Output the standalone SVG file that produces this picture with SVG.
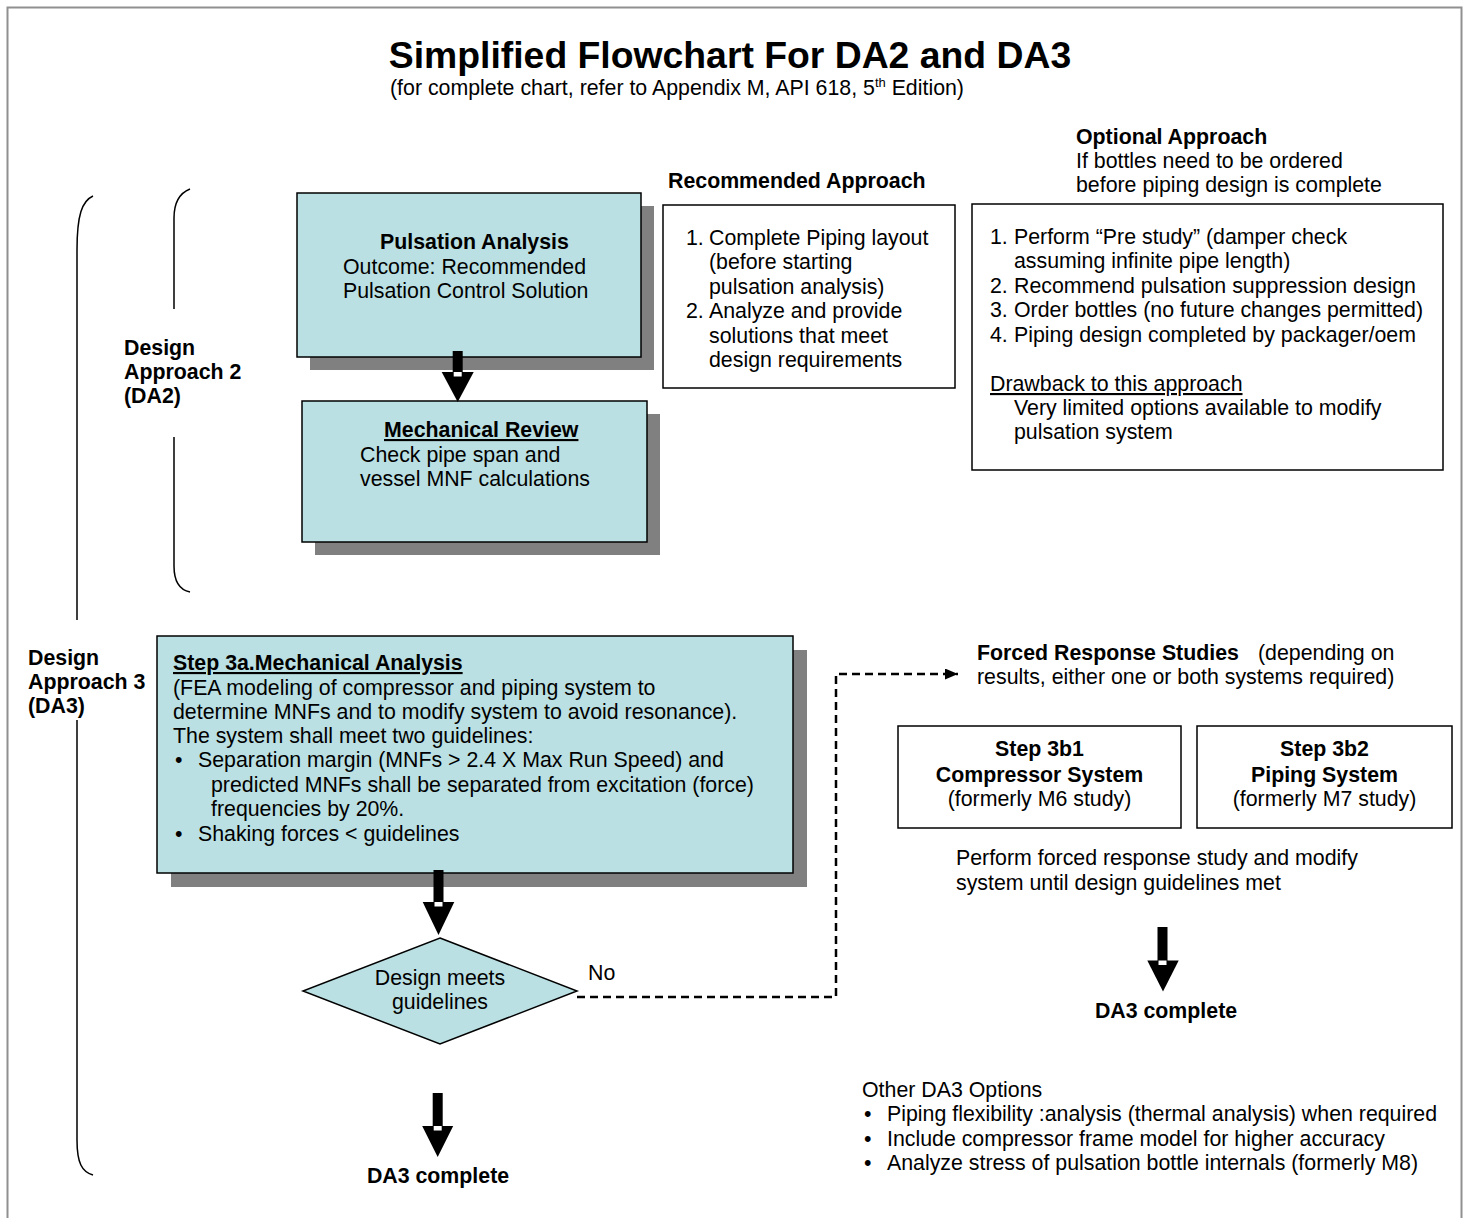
<svg xmlns="http://www.w3.org/2000/svg" width="1465" height="1218" viewBox="0 0 1465 1218">
<style>
text{font-family:"Liberation Sans",Arial,sans-serif;font-size:21.33px;fill:#000}
.b{font-weight:bold}
.u{text-decoration:underline}
.title{font-size:37.33px;font-weight:bold}
.mid{text-anchor:middle}
.box{fill:#BBE0E3;stroke:#000;stroke-width:1.5}
.wbox{fill:#fff;stroke:#000;stroke-width:1.5}
.shadow{fill:#808080}
.brace{fill:none;stroke:#000;stroke-width:1.5}
.blk{fill:#000}
.notch{fill:#fff}
.dash{fill:none;stroke:#000;stroke-width:2.5;stroke-dasharray:8 5}
</style>
<defs>
<marker id="ah" markerWidth="13" markerHeight="11" refX="13" refY="5.5" orient="auto" markerUnits="userSpaceOnUse"><path d="M0,0 L13,5.5 L0,11 Z" fill="#000"/></marker>
</defs>
<rect x="0" y="0" width="1465" height="1218" fill="#fff"/>
<rect x="7.5" y="7.5" width="1454" height="1240" fill="none" stroke="#909090" stroke-width="2"/>

<g id="title">
<text class="title mid" x="730" y="68">Simplified Flowchart For DA2 and DA3</text>
<text x="390" y="95">(for complete chart, refer to Appendix M, API 618, 5<tspan font-size="13" dy="-8">th</tspan><tspan dy="8"> Edition)</tspan></text>
</g>

<g id="brackets">
<path class="brace" d="M93,196 C82,201 77,215 77,250 L77,620"/>
<path class="brace" d="M77,720 L77,1140 C77,1163 82,1172 93,1175"/>
<path class="brace" d="M190,189 C180,193 174,201 174,218 L174,309"/>
<path class="brace" d="M174,437 L174,566 C174,582 180,590 190,592"/>
</g>

<g id="label-da2">
<text class="b" x="124" y="355">Design</text>
<text class="b" x="124" y="379">Approach 2</text>
<text class="b" x="124" y="403">(DA2)</text>
</g>
<g id="label-da3">
<text class="b" x="28" y="665">Design</text>
<text class="b" x="28" y="689">Approach 3</text>
<text class="b" x="28" y="713">(DA3)</text>
</g>

<g id="pulsation-analysis">
<rect class="shadow" x="310" y="206" width="344" height="164"/>
<rect class="box" x="297" y="193" width="344" height="164"/>
<text class="b" x="380" y="249">Pulsation Analysis</text>
<text x="343" y="274">Outcome: Recommended</text>
<text x="343" y="298">Pulsation Control Solution</text>
</g>

<g id="mechanical-review">
<rect class="shadow" x="315" y="414" width="345" height="141"/>
<rect class="box" x="302" y="401" width="345" height="141"/>
<text class="b u" x="384" y="437">Mechanical Review</text>
<text x="360" y="462">Check pipe span and</text>
<text x="360" y="486">vessel MNF calculations</text>
</g>

<g id="recommended-approach">
<text class="b" x="668" y="188">Recommended Approach</text>
<rect class="wbox" x="663" y="205" width="292" height="183"/>
<text x="686" y="245">1.</text><text x="709" y="245">Complete Piping layout</text>
<text x="709" y="269">(before starting</text>
<text x="709" y="294">pulsation analysis)</text>
<text x="686" y="318">2.</text><text x="709" y="318">Analyze and provide</text>
<text x="709" y="343">solutions that meet</text>
<text x="709" y="367">design requirements</text>
</g>

<g id="optional-approach">
<text class="b" x="1076" y="144">Optional Approach</text>
<text x="1076" y="168">If bottles need to be ordered</text>
<text x="1076" y="192">before piping design is complete</text>
<rect class="wbox" x="972" y="204" width="471" height="266"/>
<text x="990" y="244">1.</text><text x="1014" y="244">Perform “Pre study” (damper check</text>
<text x="1014" y="268">assuming infinite pipe length)</text>
<text x="990" y="293">2.</text><text x="1014" y="293">Recommend pulsation suppression design</text>
<text x="990" y="317">3.</text><text x="1014" y="317">Order bottles (no future changes permitted)</text>
<text x="990" y="342">4.</text><text x="1014" y="342">Piping design completed by packager/oem</text>
<text class="u" x="990" y="391">Drawback to this approach</text>
<text x="1014" y="415">Very limited options available to modify</text>
<text x="1014" y="439">pulsation system</text>
</g>

<g id="step-3a">
<rect class="shadow" x="171" y="650" width="636" height="237"/>
<rect class="box" x="157" y="636" width="636" height="237"/>
<text class="b u" x="173" y="670">Step 3a.Mechanical Analysis</text>
<text x="173" y="695">(FEA modeling of compressor and piping system to</text>
<text x="173" y="719">determine MNFs and to modify system to avoid resonance).</text>
<text x="173" y="743">The system shall meet two guidelines:</text>
<text x="175" y="767">•</text><text x="198" y="767">Separation margin (MNFs &gt; 2.4 X Max Run Speed) and</text>
<text x="211" y="792">predicted MNFs shall be separated from excitation (force)</text>
<text x="211" y="816">frequencies by 20%.</text>
<text x="175" y="841">•</text><text x="198" y="841">Shaking forces &lt; guidelines</text>
</g>

<g id="decision">
<polygon class="box" points="440,938 577,991 440,1044 303,991"/>
<text class="mid" x="440" y="985">Design meets</text>
<text class="mid" x="440" y="1009">guidelines</text>
</g>

<g id="da3-complete-left">
<text class="b mid" x="438" y="1183">DA3 complete</text>
</g>

<g id="forced-response">
<text x="977" y="660"><tspan class="b">Forced Response Studies</tspan><tspan x="1258">(depending on</tspan></text>
<text x="977" y="684">results, either one or both systems required)</text>
</g>

<g id="step-3b1">
<rect class="wbox" x="898" y="726" width="283" height="102"/>
<text class="b mid" x="1039.5" y="756">Step 3b1</text>
<text class="b mid" x="1039.5" y="782">Compressor System</text>
<text class="mid" x="1039.5" y="806">(formerly M6 study)</text>
</g>

<g id="step-3b2">
<rect class="wbox" x="1197" y="726" width="255" height="102"/>
<text class="b mid" x="1324.5" y="756">Step 3b2</text>
<text class="b mid" x="1324.5" y="782">Piping System</text>
<text class="mid" x="1324.5" y="806">(formerly M7 study)</text>
</g>

<g id="forced-response-note">
<text x="956" y="865">Perform forced response study and modify</text>
<text x="956" y="890">system until design guidelines met</text>
</g>

<g id="da3-complete-right">
<text class="b mid" x="1166" y="1018">DA3 complete</text>
</g>

<g id="other-options">
<text x="862" y="1097">Other DA3 Options</text>
<text x="864" y="1121">•</text><text x="887" y="1121">Piping flexibility :analysis (thermal analysis) when required</text>
<text x="864" y="1146">•</text><text x="887" y="1146">Include compressor frame model for higher accuracy</text>
<text x="864" y="1170">•</text><text x="887" y="1170">Analyze stress of pulsation bottle internals (formerly M8)</text>
</g>

<g id="connectors">
<g id="arrow-pa-mr">
<rect class="blk" x="452.7" y="351" width="10" height="25"/>
<polygon class="blk" points="441.7,372 473.7,372 457.7,402"/>
<rect class="notch" x="453.7" y="372" width="8" height="4.5"/>
</g>
<g id="arrow-3a-decision">
<rect class="blk" x="433.5" y="870" width="10" height="36"/>
<polygon class="blk" points="422.7,902 454.3,902 438.5,935"/>
<rect class="notch" x="434.5" y="902" width="8" height="4.5"/>
</g>
<g id="arrow-decision-complete">
<rect class="blk" x="432.7" y="1093" width="10" height="37"/>
<polygon class="blk" points="422.2,1126 453.2,1126 437.7,1157"/>
<rect class="notch" x="433.7" y="1126" width="8" height="4.5"/>
</g>
<g id="arrow-3b-complete">
<rect class="blk" x="1157.5" y="927" width="10" height="38"/>
<polygon class="blk" points="1147.3,960.5 1178.7,960.5 1163,991.5"/>
<rect class="notch" x="1158.5" y="960.5" width="8" height="4.5"/>
</g>
<path class="dash" d="M577,997 H836 V674 H958" marker-end="url(#ah)"/>
<text x="588" y="980">No</text>
</g>
</svg>
